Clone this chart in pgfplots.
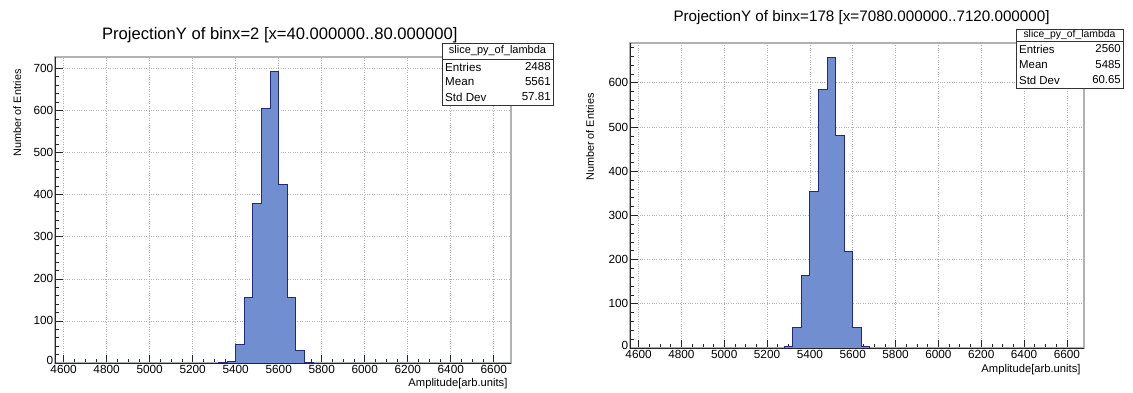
\documentclass[border=0pt]{standalone}
\usepackage{fontspec}
\setmainfont{Liberation Sans}
\usepackage{pgfplots}
\pgfplotsset{compat=1.18}
\definecolor{histfill}{RGB}{112,142,208}
\definecolor{histline}{RGB}{32,42,130}
\pgfplotsset{
  rootstyle/.style={
    scale only axis,
    xmin=4560, xmax=6680, ymin=0,
    xtick={4600,4800,...,6600},
    minor x tick num=3,
    ytick distance=100, minor y tick num=4,
    tick align=inside, tick pos=left,
    major tick length=8pt, minor tick length=4pt,
    every tick/.style={black!85, line width=0.6pt},
    grid=major,
    major grid style={dotted, gray!60, line width=0.6pt},
    axis line style={draw=gray!60, line width=1.5pt},
    /pgf/number format/assume math mode=true,
    /pgf/number format/1000 sep={},
    ticklabel style={font=\fontsize{11.8}{12}\selectfont},
    xticklabel style={inner sep=1.5pt, yshift=-1pt},
    yticklabel style={inner sep=1.5pt},
    yticklabel={\pgfmathparse{\tick==0}\ifnum\pgfmathresult=1 \raisebox{6pt}{0}\else\pgfmathprintnumber{\tick}\fi},
    clip=false,
    every axis x label/.style={anchor=east, font=\fontsize{11.2}{12}\selectfont},
    every axis y label/.style={rotate=90, anchor=center, font=\fontsize{10.8}{11}\selectfont},
    every axis title/.style={anchor=center, font=\fontsize{16.6}{18}\selectfont},
  }
}
\begin{document}
\begin{tikzpicture}
\useasboundingbox (0,0) rectangle (1133pt,393pt);
% ---------------- left panel ----------------
\begin{axis}[rootstyle,
  width=456pt, height=306pt, at={(55pt,30pt)}, anchor=south west,
  ymax=727,
  title={ProjectionY of binx=2 [x=40.000000..80.000000]},
  title style={at={(axis description cs:0.493,1.072)}},
  xlabel={Amplitude[arb.units]},
  xlabel style={at={(axis description cs:1,-0.068)}},
  ylabel={Number of Entries},
  ylabel style={at={(axis description cs:-0.083,0.817)}},
]
\addplot[const plot mark left, fill=histfill, draw=histline, line width=0.9pt]
  coordinates {(4560,0) (5320,1) (5360,3) (5400,44) (5440,155) (5480,378)
  (5520,604) (5560,693) (5600,423) (5640,156) (5680,29) (5720,2) (5760,0) (6680,0)} \closedcycle;
\draw[black!85, line width=0.8pt] (rel axis cs:0,1) -- (rel axis cs:0,0) -- (rel axis cs:1,0);
\end{axis}
\draw[black!80, line width=0.8pt, fill=white] (442pt,288pt) rectangle (553pt,350pt);
\draw[black!80, line width=0.8pt] (442pt,334pt) -- (553pt,334pt);
\begin{scope}[every node/.style={font=\fontsize{11.6}{12}\selectfont, inner sep=0pt}]
\node[anchor=center] at (497.5pt,342pt) {\fontsize{11}{12}\selectfont slice\_py\_of\_lambda};
\node[anchor=west] at (445pt,326pt) {Entries}; \node[anchor=east] at (551pt,326pt) {2488};
\node[anchor=west] at (445pt,311pt) {Mean};    \node[anchor=east] at (551pt,311pt) {5561};
\node[anchor=west] at (445pt,296pt) {Std Dev}; \node[anchor=east] at (551pt,296pt) {57.81};
\end{scope}
% ---------------- right panel ----------------
\begin{axis}[rootstyle,
  width=454pt, height=305pt, at={(630pt,45pt)}, anchor=south west,
  ymax=690,
  title={ProjectionY of binx=178 [x=7080.000000..7120.000000]},
  title style={at={(axis description cs:0.51,1.085)}, font=\fontsize{15.2}{17}\selectfont},
  xlabel={Amplitude[arb.units]},
  xlabel style={at={(axis description cs:1,-0.072)}},
  ylabel={Number of Entries},
  ylabel style={at={(axis description cs:-0.088,0.692)}},
]
\addplot[const plot mark left, fill=histfill, draw=histline, line width=0.9pt]
  coordinates {(4560,0) (5280,4) (5320,47) (5360,163) (5400,355) (5440,585)
  (5480,657) (5520,481) (5560,218) (5600,47) (5640,3) (5680,0) (6680,0)} \closedcycle;
\draw[black!85, line width=0.8pt] (rel axis cs:0,1) -- (rel axis cs:0,0) -- (rel axis cs:1,0);
\end{axis}
\draw[black!80, line width=0.8pt, fill=white] (1016pt,305pt) rectangle (1123pt,364pt);
\draw[black!80, line width=0.8pt] (1016pt,352pt) -- (1123pt,352pt);
\begin{scope}[every node/.style={font=\fontsize{11.4}{12}\selectfont, inner sep=0pt}]
\node[anchor=center] at (1069.5pt,358pt) {\fontsize{10.4}{11}\selectfont slice\_py\_of\_lambda};
\node[anchor=west] at (1019pt,344pt) {Entries}; \node[anchor=east] at (1121pt,344pt) {2560};
\node[anchor=west] at (1019pt,328.5pt) {Mean};    \node[anchor=east] at (1121pt,328.5pt) {5485};
\node[anchor=west] at (1019pt,313pt) {Std Dev}; \node[anchor=east] at (1121pt,313pt) {60.65};
\end{scope}
\end{tikzpicture}
\end{document}
